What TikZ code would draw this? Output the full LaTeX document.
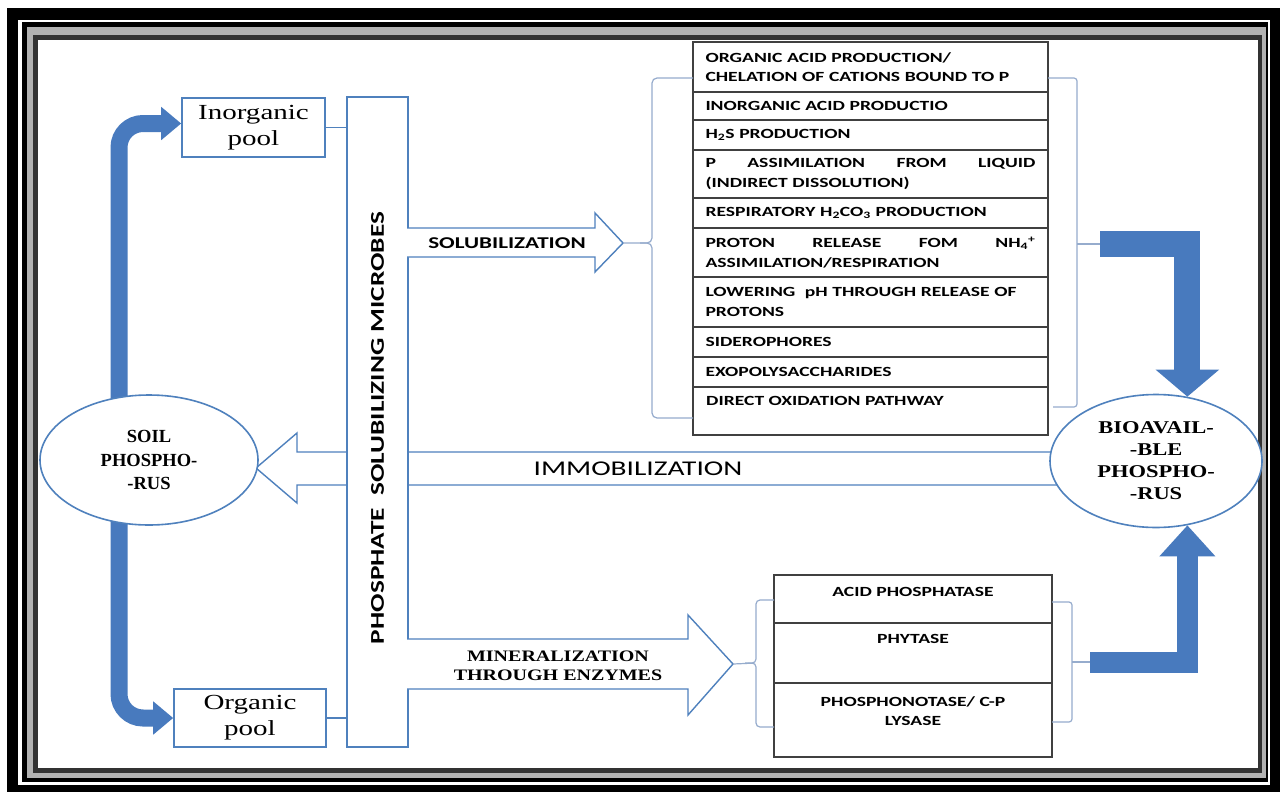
\documentclass[tikz,border=0pt]{standalone}
\usepackage{fontspec}
\setmainfont{Liberation Serif}
\newfontfamily\capsfont[FakeStretch=1.4]{Carlito}
\newfontfamily\wideserif[FakeStretch=1.35]{Liberation Serif}
\newfontfamily\boldserif[FakeStretch=1.25]{Liberation Serif}
\usetikzlibrary{positioning,shapes.geometric,arrows.meta,backgrounds}

\definecolor{psblue}{RGB}{79,129,189}
\definecolor{psfill}{RGB}{72,122,190}
\definecolor{pbrace}{RGB}{150,172,205}

\tikzset{
  bluebox/.style={draw=psblue, line width=1.6pt, fill=white, inner sep=0pt},
  pool/.style={bluebox, minimum width=143pt, minimum height=59pt, align=center,
    font=\wideserif\fontsize{21.5}{26}\selectfont},
  pellipse/.style={ellipse, draw=psblue, line width=1.6pt, fill=white, inner sep=0pt, align=center},
  listrow/.style={draw=black!75, line width=1.2pt, fill=white, outer sep=0pt,
    text width=330pt, inner xsep=12.5pt, inner ysep=2pt, align=left,
    font=\capsfont\bfseries\fontsize{14}{19.5}\selectfont},
  enzrow/.style={draw=black!75, line width=1.2pt, fill=white, outer sep=0pt,
    minimum width=278pt, inner sep=0pt},
  enztext/.style={inner sep=0pt, align=center, font=\capsfont\bfseries\fontsize{14}{19.5}\selectfont},
  hollow/.style={draw=psblue, line width=1.4pt, fill=white},
  brace/.style={draw=pbrace, line width=1.2pt},
  fat/.style={draw=psfill}
}

\begin{document}
\begin{tikzpicture}[x=1pt,y=-1pt]
  \useasboundingbox (0,0) rectangle (1281,792);

  % pools and microbes
  \node[pool] (inorg) at (253.5,127.5) {Inorganic\\pool};
  \node[pool, minimum width=152pt, minimum height=58pt] (org) at (250,718) {Organic\\pool};
  \node[bluebox, minimum width=61pt, minimum height=650pt] (psm) at (377.5,422) {};
  \node[rotate=90, inner sep=0pt, font=\capsfont\bfseries\fontsize{19.5}{20}\selectfont]
    (psmlabel) at ([yshift=-6pt]psm.center) {PHOSPHATE\ \ SOLUBILIZING MICROBES};
  \draw[psblue, line width=1.4pt] (inorg.east) -- (inorg.east -| psm.west);
  \draw[psblue, line width=1.4pt] (org.east) -- (org.east -| psm.west);

  % phosphorus pools
  \node[pellipse, minimum width=218pt, minimum height=130pt,
    font=\bfseries\fontsize{18.5}{23.5}\selectfont] (soil) at (149,460) {SOIL\\PHOSPHO-\\-RUS};
  \node[pellipse, minimum width=212pt, minimum height=133pt,
    font=\boldserif\bfseries\fontsize{18}{22}\selectfont] (bio) at (1156,461)
    {BIOAVAIL-\\-BLE\\PHOSPHO-\\-RUS};

  % solubilization mechanisms
  \node[listrow, anchor=north, minimum height=50pt] (r1) at (870.5,42)
    {ORGANIC ACID PRODUCTION/\\CHELATION OF CATIONS BOUND TO P};
  \node[listrow, minimum height=28pt, below=0pt of r1] (r2) {INORGANIC ACID PRODUCTIO};
  \node[listrow, minimum height=30pt, below=0pt of r2] (r3) {H\textsubscript{2}S PRODUCTION};
  \node[listrow, minimum height=48pt, below=0pt of r3] (r4)
    {P\hfill ASSIMILATION\hfill FROM\hfill LIQUID\\(INDIRECT DISSOLUTION)};
  \node[listrow, minimum height=30pt, below=0pt of r4] (r5)
    {RESPIRATORY H\textsubscript{2}CO\textsubscript{3} PRODUCTION};
  \node[listrow, minimum height=49pt, below=0pt of r5] (r6)
    {PROTON\hfill RELEASE\hfill FOM\hfill NH\textsubscript{4}\textsuperscript{+}\\ASSIMILATION/RESPIRATION};
  \node[listrow, minimum height=50pt, below=0pt of r6] (r7)
    {LOWERING\ \ pH THROUGH RELEASE OF\\PROTONS};
  \node[listrow, minimum height=30pt, below=0pt of r7] (r8) {SIDEROPHORES};
  \node[listrow, minimum height=30pt, below=0pt of r8] (r9) {EXOPOLYSACCHARIDES};
  \node[listrow, minimum height=48pt, below=0pt of r9] (r10) {};
  \node[enztext, anchor=north west] (r10text) at ([xshift=13pt,yshift=-9.5pt]r10.north west)
    {DIRECT OXIDATION PATHWAY};

  % enzymes
  \node[enzrow, anchor=north, minimum height=48pt] (e1) at (913,575) {};
  \node[enzrow, minimum height=60pt, below=0pt of e1] (e2) {};
  \node[enzrow, minimum height=74pt, below=0pt of e2] (e3) {};
  \node[enztext, below=12pt of e1.north] (e1text) {ACID PHOSPHATASE};
  \node[enztext, below=11.5pt of e2.north] (e2text) {PHYTASE};
  \node[enztext, below=13pt of e3.north] (e3text) {PHOSPHONOTASE/ C-P\\LYSASE};

  % arrow ends
  \coordinate (soltip) at (623,243);
  \coordinate (solout) at (1100,244);
  \coordinate (mintip) at (733,664);
  \coordinate (minout) at (1090,662);
  \coordinate (imtip) at (256,468);

  % solubilization and mineralization
  \draw[hollow] (407,228) -- (595,228) -- (595,213) -- (soltip) -- (595,272) -- (595,257) -- (407,257);
  \node[font=\capsfont\bfseries\fontsize{16.5}{18}\selectfont, inner sep=0pt] (sollabel)
    at (507,243) {SOLUBILIZATION};
  \draw[hollow] (407,639) -- (688,639) -- (688,615) -- (mintip) -- (688,715) -- (688,689) -- (407,689);
  \node[font=\boldserif\bfseries\fontsize{16}{19}\selectfont, align=center, inner sep=0pt] (minlabel)
    at (558,665.5) {MINERALIZATION\\THROUGH ENZYMES};
  \node[font=\capsfont\fontsize{21}{24}\selectfont, inner sep=0pt] (immlabel)
    at (638,468.5) {IMMOBILIZATION};

  % brackets
  \draw[brace, rounded corners=5pt] (693,78) -- (652,78) -- (652,243) -- (soltip);
  \draw[brace, rounded corners=5pt] (693,418) -- (652,418) -- (652,243) -- (640,243);
  \draw[brace, rounded corners=3pt] (1048,78) -- (1077,78) -- (1077,407) -- (1053,407);
  \draw[brace] (1077,244) -- (solout);
  \draw[brace, rounded corners=4pt] (774,600) -- (756,600) -- (756,663) -- (mintip);
  \draw[brace, rounded corners=4pt] (774,727) -- (756,727) -- (756,663) -- (745,663);
  \draw[brace, rounded corners=3pt] (1052,602) -- (1072,602) -- (1072,722) -- (1052,722);
  \draw[brace] (1072,662) -- (minout);

  % fat arrows to bioavailable P
  \draw[fat, line width=26pt, -{Triangle[length=27pt,width=62pt]}] (solout) -| (bio.64);
  \draw[fat, line width=21pt, -{Triangle[length=31pt,width=54pt]}] (minout) -| (bio.-64);

  \begin{scope}[on background layer]
    % frame
    \fill[white] (0,0) rectangle (1281,792);
    \fill[black] (7,8) rectangle (1280,792);
    \fill[white] (18,20) rectangle (1270,785);
    \fill[black] (22,22) rectangle (1268,782);
    \fill[gray!60] (27,27) rectangle (1266,778);
    \fill[black!80] (33,35) rectangle (1262,773);
    \fill[white] (38,40) rectangle (1258,768);
    % immobilization
    \draw[hollow] (1100,452) -- (297,452) -- (297,433) -- (imtip) -- (297,503) -- (297,485) -- (1100,485);
    % soil to pools
    \draw[fat, line width=17pt, rounded corners=24pt, -{Triangle[length=20pt,width=32pt]}]
      ([xshift=-30pt]soil.center) |- ([yshift=4pt]inorg.west);
    \draw[fat, line width=17pt, rounded corners=24pt, -{Triangle[length=20pt,width=32pt]}]
      ([xshift=-30pt]soil.center) |- (org.west);
  \end{scope}
\end{tikzpicture}
\end{document}
